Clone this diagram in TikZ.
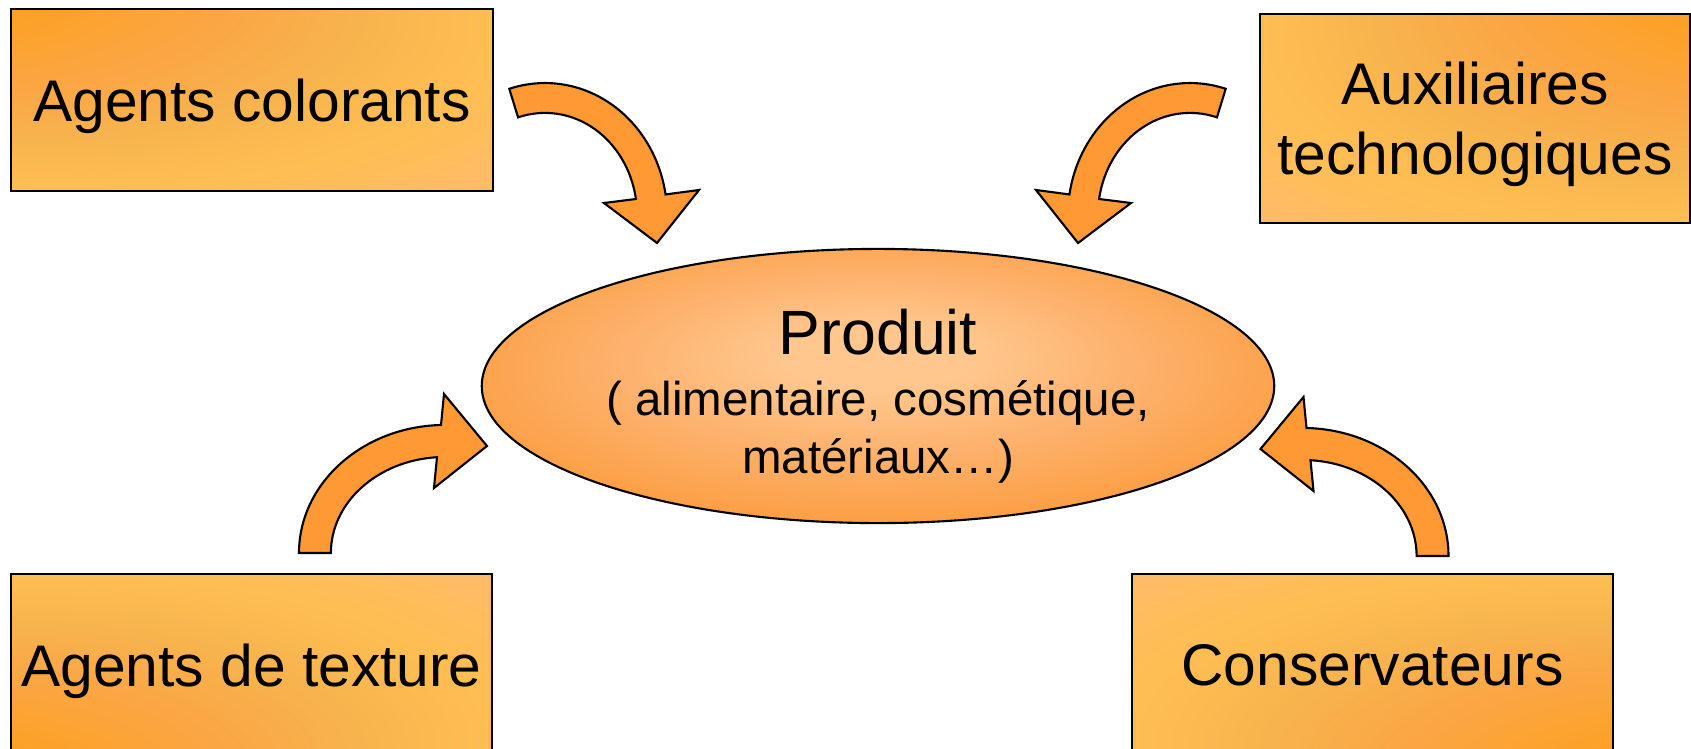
\documentclass[tikz,border=0pt]{standalone}
\usepackage{fontspec}
\setmainfont{Liberation Sans}
\usetikzlibrary{shapes.geometric}

\definecolor{arrowfill}{HTML}{FF9933}
\definecolor{cdark}{HTML}{FF9410}
\definecolor{corange}{HTML}{FCA22A}
\definecolor{cbrown}{HTML}{FBA645}
\definecolor{cmuted}{HTML}{F7B44E}
\definecolor{cyellow}{HTML}{FFBE52}
\definecolor{cpeach}{HTML}{FFBB6B}
\definecolor{pcenter}{HTML}{FFC78D}
\definecolor{plight}{HTML}{FDB26E}
\definecolor{pmid}{HTML}{FCA046}
\definecolor{pedge}{HTML}{FF9230}

\pgfdeclareradialshading{boxcorner}{\pgfpoint{-50bp}{50bp}}{%
  color(0bp)=(cdark); color(9bp)=(cdark); color(20bp)=(corange);
  color(28bp)=(cbrown); color(36bp)=(cmuted); color(44bp)=(cyellow);
  color(54bp)=(cpeach); color(71bp)=(cpeach)}
\pgfdeclareradialshading{prodshade}{\pgfpoint{0bp}{6bp}}{%
  color(0bp)=(pcenter); color(6bp)=(pcenter); color(16bp)=(plight);
  color(27bp)=(pmid); color(42bp)=(pedge); color(50bp)=(pedge)}

\begin{document}
\begin{tikzpicture}[x=0.01cm,y=-0.01cm,
                    box/.style={rectangle,draw,line width=0.6pt,shade,shading=boxcorner,
                                align=center,text depth=0pt,inner sep=0pt,
                                font=\fontsize{16.7pt}{20pt}\selectfont},
                    blockarrow/.style={draw,fill=arrowfill,line width=0.6pt,line join=miter}]
  \tikzstyle{produitshape}=[ellipse,draw,line width=0.6pt,shade,shading=prodshade,
                            inner sep=0pt,align=center,text depth=0pt,
                            font=\fontsize{13.5pt}{16.5pt}\selectfont]
  \useasboundingbox (0,0) rectangle (1691,748);

  \node[box,minimum width=4.82cm,minimum height=1.82cm,shading angle=0]
       (colorants) at (252,100) {Agents colorants};
  \node[box,minimum width=4.30cm,minimum height=2.09cm,shading angle=-90]
       (auxiliaires) at (1475,118.5) {Auxiliaires\\technologiques};
  \node[box,minimum width=4.81cm,minimum height=1.82cm,shading angle=90]
       (texture) at (251.5,665) {Agents de texture};
  \node[box,minimum width=4.81cm,minimum height=1.82cm,shading angle=180]
       (conservateurs) at (1372.5,665) {Conservateurs};
  \node[produitshape,minimum width=7.92cm,minimum height=2.74cm]
       (produit) at (878,386)
       {\rule{0pt}{16pt}{\fontsize{17.8pt}{21pt}\selectfont Produit}\\[1pt]
        ( alimentaire, cosmétique,\\matériaux…)};

  % curved block arrows towards the product
  \draw[blockarrow] (509.3,88.8)
    arc[start angle=107,end angle=9,x radius=1.22cm,y radius=1.32cm]
    -- (699,190) -- (657,243) -- (604,203) -- (635.9,199)
    arc[start angle=9,end angle=107,x radius=0.92cm,y radius=1.02cm] -- cycle;
  \draw[blockarrow] (1225.7,88.8)
    arc[start angle=73,end angle=171,x radius=1.22cm,y radius=1.32cm]
    -- (1036,190) -- (1078,243) -- (1131,203) -- (1099.1,199)
    arc[start angle=171,end angle=73,x radius=0.92cm,y radius=1.02cm] -- cycle;
  \draw[blockarrow] (299,553)
    arc[start angle=180,end angle=91.6,x radius=1.46cm,y radius=1.28cm]
    -- (444,394) -- (487,446) -- (434,488) -- (437,457.2)
    arc[start angle=94,end angle=180,x radius=1.14cm,y radius=0.96cm] -- cycle;
  \draw[blockarrow] (1448.5,556)
    arc[start angle=0,end angle=88.4,x radius=1.46cm,y radius=1.28cm]
    -- (1303.5,397) -- (1260.5,449) -- (1313.5,491) -- (1310.5,460.2)
    arc[start angle=86,end angle=0,x radius=1.14cm,y radius=0.96cm] -- cycle;

\end{tikzpicture}
\end{document}
